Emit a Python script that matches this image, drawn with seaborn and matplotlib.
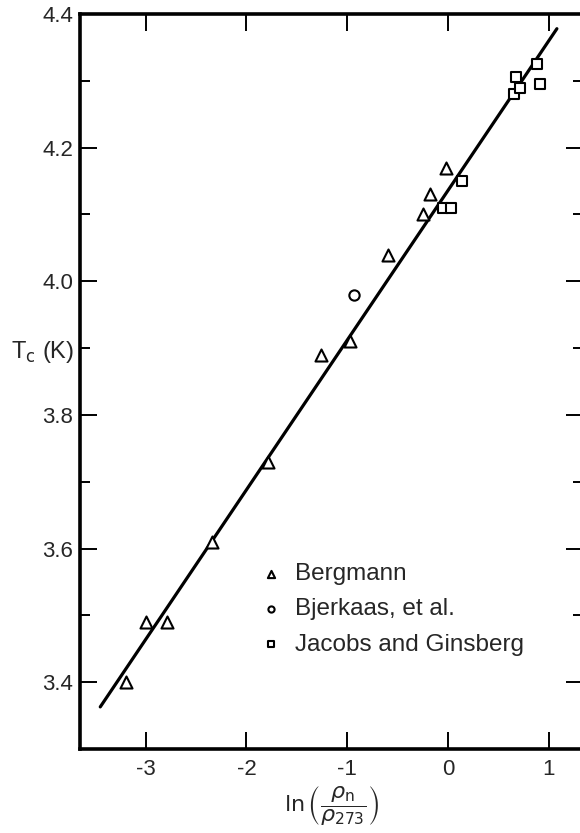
import numpy as np
import pandas as pd
import matplotlib
matplotlib.use('Agg')
import matplotlib.pyplot as plt
import seaborn as sns

# values
bergmann_x = [-3.19, -3.00, -2.79, -2.34, -1.79, -1.26, -0.97, -0.60, -0.25, -0.18, -0.02]
bergmann_y = [3.40, 3.49, 3.49, 3.61, 3.73, 3.89, 3.91, 4.04, 4.10, 4.13, 4.17]
bjerkaas_x = [-0.93]
bjerkaas_y = [3.98]
jacobs_x = [-0.05, 0.03, 0.14, 0.65, 0.67, 0.71, 0.88, 0.91]
jacobs_y = [4.11, 4.11, 4.15, 4.28, 4.305, 4.29, 4.325, 4.295]
# straight line drawn through the points (its two ends)
fit_x = [-3.45, 1.08]
fit_y = [3.363, 4.378]

x_ticks = [-3, -2, -1, 0, 1]
y_ticks = [3.4, 3.6, 3.8, 4.0, 4.2, 4.4]
y_minor = [3.3, 3.5, 3.7, 3.9, 4.1, 4.3]

sns.set_theme(style='white')
plt.rcParams['font.family'] = ['Liberation Sans', 'DejaVu Sans']
plt.rcParams['mathtext.fontset'] = 'dejavusans'

fig = plt.figure(figsize=(5.8, 8.33), dpi=100)
ax = fig.add_axes([80 / 580, 84 / 833, 503 / 580, 735 / 833])

sns.lineplot(x=fit_x, y=fit_y, color='black', linewidth=2.3, ax=ax)

series = [
    ('Bergmann', bergmann_x, bergmann_y, '^', 75),
    ('Bjerkaas, et al.', bjerkaas_x, bjerkaas_y, 'o', 55),
    ('Jacobs and Ginsberg', jacobs_x, jacobs_y, 's', 60),
]
for name, xs, ys, mk, size in series:
    sns.scatterplot(x=xs, y=ys, marker=mk, s=size, facecolors='white',
                    edgecolors='black', linewidths=1.5, label=name, ax=ax, zorder=3)

ax.set_xlim(-3.651, 1.339)
ax.set_ylim(3.3, 4.4)
ax.set_xticks(x_ticks)
ax.set_xticklabels([str(t) for t in x_ticks])
ax.set_yticks(y_ticks)
ax.set_yticklabels(['%.1f' % t for t in y_ticks])
ax.set_yticks(y_minor, minor=True)

ax.tick_params(which='major', direction='in', length=12, width=1.4, color='black',
               labelsize=16, pad=5, top=True, right=True, left=True, bottom=True)
ax.tick_params(which='minor', direction='in', length=7, width=1.4, color='black',
               left=True, right=True)
ax.tick_params(axis='x', pad=7)

for side in ['left', 'top', 'bottom']:
    ax.spines[side].set_linewidth(2.6)
    ax.spines[side].set_color('black')
ax.spines['right'].set_visible(False)

ax.set_xlabel(r'$\ln\left(\dfrac{\rho_\mathrm{n}}{\rho_{273}}\right)$', fontsize=16, labelpad=3)
ax.set_ylabel(r'T$_\mathrm{c}$ (K)', fontsize=17, rotation=0, ha='right', va='center')
ax.yaxis.set_label_coords(-0.012, 0.54)

leg = ax.legend(loc='upper left', bbox_to_anchor=(0.36, 0.253), frameon=False,
                fontsize=17.5, markerscale=0.6, handlelength=0.8, handletextpad=0.6,
                labelspacing=0.55, borderaxespad=0, borderpad=0)

fig.savefig('out.png', dpi=100)
